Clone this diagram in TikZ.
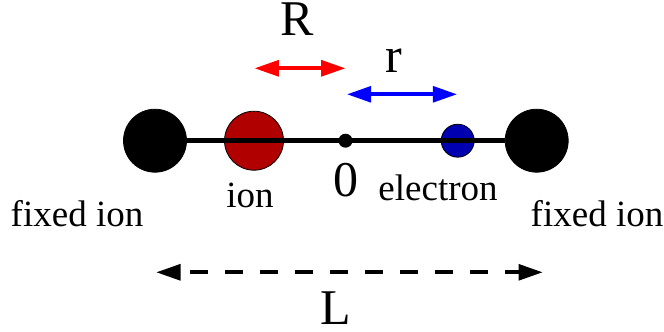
\documentclass[tikz,border=0pt]{standalone}
\usepackage{fontspec}
\setmainfont{Liberation Serif}
\usetikzlibrary{arrows.meta}
\definecolor{ionred}{RGB}{176,0,0}
\definecolor{elblue}{RGB}{0,0,176}
\tikzset{
  ball/.style={circle,draw=black,line width=0.8pt,inner sep=0pt,outer sep=0pt},
  bigtext/.style={font=\fontsize{50}{50}\selectfont,inner sep=0pt,text=black},
  smalltext/.style={font=\fontsize{37}{37}\selectfont,inner sep=0pt,text=black},
  span/.style={line width=4.3pt,{Triangle[length=24.5pt,width=15.5pt]}-{Triangle[length=24.5pt,width=15.5pt]}},
}
\begin{document}
\begin{tikzpicture}[x=1pt,y=-1pt]
\useasboundingbox (0,0) rectangle (664,332);
\node[ball,fill=black,minimum size=63pt] (fl) at (155,140.7) {};
\node[ball,fill=black,minimum size=63pt] (fr) at (536.7,140.7) {};
\node[ball,fill=ionred,minimum size=59pt] (ion) at (254,140.7) {};
\node[ball,fill=elblue,minimum size=33pt] (el) at (457.7,140.7) {};
\node[circle,fill=black,minimum size=14pt,inner sep=0pt] (o) at (345.5,140.7) {};
\draw[line width=5pt] (fl) -- (fr);
\coordinate (ra) at (254.3,68.3); \coordinate (rb) at (345.7,68.3);
\coordinate (ba) at (346.7,94.3); \coordinate (bb) at (457.3,94.3);
\coordinate (la) at (156,272.3); \coordinate (lb) at (543,272.3);
\draw[span,red] (ra) -- (rb);
\draw[span,blue] (ba) -- (bb);
\draw[span,black,dash pattern=on 18pt off 17pt,dash phase=24pt] (la) -- (lb);
\node[bigtext] (tR) at (297.5,19) {R};
\node[bigtext] (tr) at (394,60.5) {r};
\node[bigtext] (t0) at (345.5,180) {0};
\node[bigtext] (tL) at (335.5,308) {L};
\node[smalltext] (tion) at (250,195) {ion};
\node[smalltext] (tel) at (438,188) {electron};
\node[smalltext] (tfl) at (77,214) {fixed ion};
\node[smalltext] (tfr) at (597,214) {fixed ion};
\end{tikzpicture}
\end{document}
